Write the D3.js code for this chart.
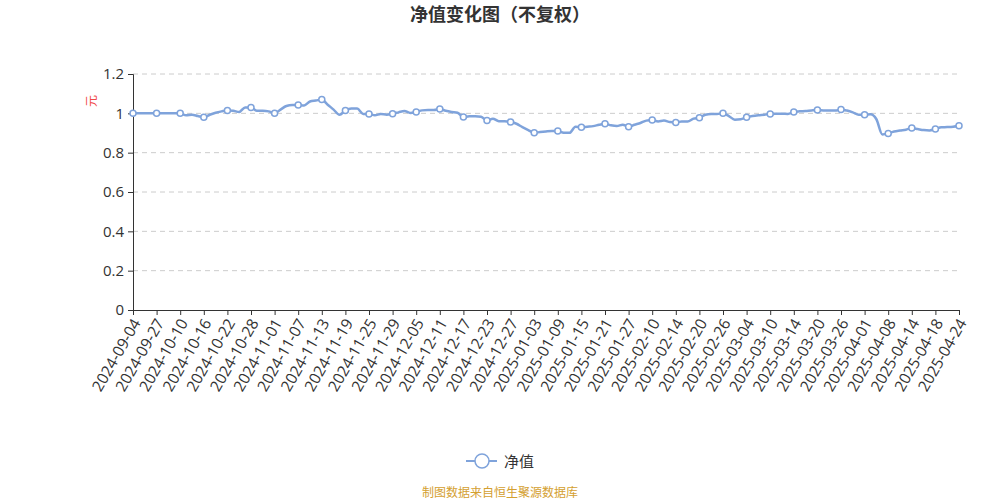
<!DOCTYPE html>
<html>
<head>
<meta charset="utf-8">
<script src="https://cdn.jsdelivr.net/npm/d3@7"></script>
<style>
  body { margin: 0; background: #fff; }
  svg { font-family: "Noto Sans CJK SC", "Noto Sans", sans-serif; }
</style>
</head>
<body>
<svg id="chart"></svg>
<script>
// tick labels shown on the x axis (one every 4 data points)
const tickLabels = [
  "2024-09-04", "2024-09-27", "2024-10-10", "2024-10-16", "2024-10-22", "2024-10-28",
  "2024-11-01", "2024-11-07", "2024-11-13", "2024-11-19", "2024-11-25", "2024-11-29",
  "2024-12-05", "2024-12-11", "2024-12-17", "2024-12-23", "2024-12-27", "2025-01-03",
  "2025-01-09", "2025-01-15", "2025-01-21", "2025-01-27", "2025-02-10", "2025-02-14",
  "2025-02-20", "2025-02-26", "2025-03-04", "2025-03-10", "2025-03-14", "2025-03-20",
  "2025-03-26", "2025-04-01", "2025-04-08", "2025-04-14", "2025-04-18", "2025-04-24"
];
const labelStep = 4;

// net value series
const navValues = [
  1.000, 1.000, 1.000, 1.000, 1.000, 1.000, 1.000, 1.000, 1.000, 0.990,
  0.993, 0.986, 0.980, 0.993, 1.003, 1.010, 1.015, 1.013, 1.007, 1.030,
  1.030, 1.013, 1.013, 1.010, 1.000, 1.019, 1.037, 1.042, 1.042, 1.040,
  1.060, 1.065, 1.070, 1.044, 1.019, 0.993, 1.014, 1.024, 1.024, 0.997,
  0.997, 0.990, 0.997, 0.993, 0.998, 1.005, 1.012, 1.002, 1.007, 1.015,
  1.017, 1.017, 1.022, 1.013, 1.007, 1.003, 0.981, 0.985, 0.985, 0.983,
  0.963, 0.973, 0.960, 0.960, 0.956, 0.947, 0.930, 0.915, 0.901, 0.905,
  0.908, 0.910, 0.910, 0.901, 0.901, 0.932, 0.929, 0.932, 0.935, 0.942,
  0.947, 0.939, 0.935, 0.942, 0.932, 0.942, 0.951, 0.963, 0.966, 0.959,
  0.963, 0.956, 0.954, 0.959, 0.959, 0.973, 0.978, 0.993, 0.997, 0.997,
  1.000, 0.986, 0.968, 0.970, 0.980, 0.986, 0.990, 0.993, 0.997, 0.998,
  0.998, 0.997, 1.007, 1.010, 1.012, 1.015, 1.017, 1.015, 1.014, 1.014,
  1.019, 1.014, 1.005, 0.993, 0.993, 0.995, 0.970, 0.893, 0.898, 0.908,
  0.913, 0.917, 0.925, 0.920, 0.915, 0.913, 0.920, 0.929, 0.930, 0.932,
  0.937
];
const yTicks = [0, 0.2, 0.4, 0.6, 0.8, 1, 1.2];

const W = 1000, H = 500;
const margin = { top: 74, right: 41, bottom: 190, left: 133 };
const width = W - margin.left - margin.right;
const height = H - margin.top - margin.bottom;
const lineColor = "#7fa3db";

const svg = d3.select("#chart").attr("width", W).attr("height", H);

// title
svg.append("text")
  .attr("x", W / 2)
  .attr("y", 21)
  .attr("text-anchor", "middle")
  .style("font-size", "18px")
  .style("font-weight", "bold")
  .style("fill", "#333")
  .text("净值变化图（不复权）");

const g = svg.append("g")
  .attr("transform", "translate(" + margin.left + "," + margin.top + ")");

const xScale = d3.scaleLinear()
  .domain([0, navValues.length - 1])
  .range([0, width]);

const yScale = d3.scaleLinear()
  .domain([0, 1.2])
  .range([height, 0]);

// dashed grid lines
g.append("g")
  .selectAll("line")
  .data(yTicks.filter(d => d > 0))
  .enter()
  .append("line")
  .attr("x1", 0)
  .attr("x2", width)
  .attr("y1", d => yScale(d))
  .attr("y2", d => yScale(d))
  .style("stroke", "#ccc")
  .style("stroke-dasharray", "5,4");

// y axis
const yAxis = g.append("g")
  .call(d3.axisLeft(yScale).tickValues(yTicks).tickSize(5).tickPadding(4).tickFormat(d => d3.format("~g")(d)));
yAxis.select(".domain").style("stroke", "#333");
yAxis.selectAll(".tick line").style("stroke", "#333");
yAxis.selectAll(".tick text")
  .style("font-size", "15px")
  .style("fill", "#333")
  .style("font-family", "'Open Sans', 'Noto Sans', sans-serif");

// y axis name
g.append("text")
  .attr("transform", "rotate(-90)")
  .attr("x", -(yScale(1.2) + 27))
  .attr("y", -37)
  .attr("text-anchor", "middle")
  .style("font-size", "12px")
  .style("fill", "#f04848")
  .text("元");

// x axis
const tickIdx = tickLabels.map((d, i) => i * labelStep);
const xAxis = g.append("g")
  .attr("transform", "translate(0," + height + ")")
  .call(d3.axisBottom(xScale).tickValues(tickIdx).tickSize(5)
    .tickFormat((d, i) => tickLabels[i]));
xAxis.select(".domain").style("stroke", "#333");
xAxis.selectAll(".tick line").style("stroke", "#333");
xAxis.selectAll(".tick text")
  .attr("text-anchor", "end")
  .attr("dy", "0.35em")
  .attr("transform", "translate(3,10) rotate(-60)")
  .attr("y", 0)
  .attr("x", 0)
  .style("font-size", "15.5px")
  .style("fill", "#333")
  .style("font-family", "'Open Sans', 'Noto Sans', sans-serif");

// the line
const navLine = d3.line()
  .x((d, i) => xScale(i))
  .y(d => yScale(d))
  .curve(d3.curveMonotoneX);

g.append("path")
  .datum(navValues)
  .attr("d", navLine)
  .style("fill", "none")
  .style("stroke", lineColor)
  .style("stroke-width", 2.5)
  .style("stroke-linejoin", "round");

// markers at labelled points
g.append("g")
  .selectAll("circle")
  .data(tickIdx)
  .enter()
  .append("circle")
  .attr("cx", d => xScale(d))
  .attr("cy", d => yScale(navValues[d]))
  .attr("r", 3)
  .style("fill", "#fff")
  .style("stroke", lineColor)
  .style("stroke-width", 1.5);

// legend
const legend = svg.append("g").attr("transform", "translate(466,461)");
legend.append("line")
  .attr("x1", 0).attr("x2", 31)
  .attr("y1", 0).attr("y2", 0)
  .style("stroke", lineColor)
  .style("stroke-width", 2);
legend.append("circle")
  .attr("cx", 16).attr("cy", 0).attr("r", 7)
  .style("fill", "#fff")
  .style("stroke", lineColor)
  .style("stroke-width", 1.5);
legend.append("text")
  .attr("x", 38).attr("y", 5.5)
  .style("font-size", "15px")
  .style("fill", "#333")
  .text("净值");

// footer
svg.append("text")
  .attr("x", W / 2)
  .attr("y", 497)
  .attr("text-anchor", "middle")
  .style("font-size", "12px")
  .style("fill", "#d4a030")
  .text("制图数据来自恒生聚源数据库");
</script>
</body>
</html>
